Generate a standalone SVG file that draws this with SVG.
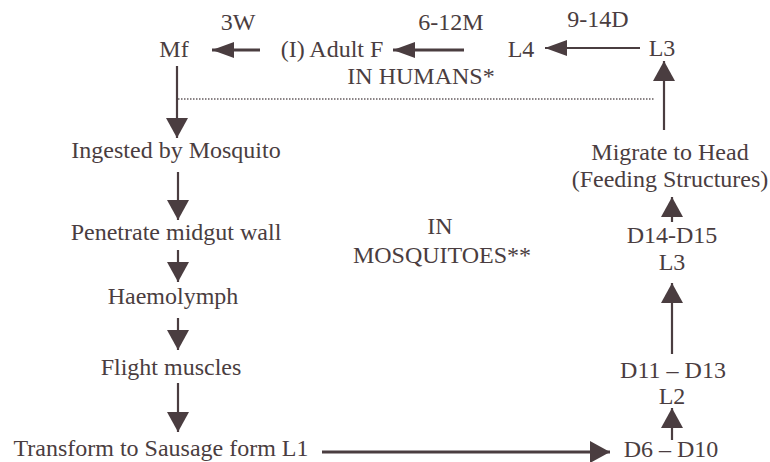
<svg xmlns="http://www.w3.org/2000/svg" width="770" height="462" viewBox="0 0 770 462">
<style>
text{font-family:'Liberation Serif','DejaVu Serif','Times New Roman',serif;font-size:24px;fill:#4a3d40;text-anchor:middle}
.ln{stroke:#4a3d40;stroke-width:2.2;fill:none}
.thick{stroke-width:3}
.dot{stroke:#8a8385;stroke-width:2;stroke-dasharray:1.5 1.5;fill:none}
</style>
<defs>
<marker id="ah" markerUnits="userSpaceOnUse" markerWidth="24" markerHeight="18" refX="22" refY="8" orient="auto" overflow="visible">
<path d="M0,0 L22,8 L0,16 z" fill="#4a3d40"/>
</marker>
<marker id="av" markerUnits="userSpaceOnUse" markerWidth="22" markerHeight="24" refX="20" refY="11" orient="auto" overflow="visible">
<path d="M0,0 L20,11 L0,22 z" fill="#4a3d40"/>
</marker>
</defs>
<rect width="770" height="462" fill="#ffffff"/>
<g id="connectors">
<line class="ln thick" x1="260" y1="50" x2="212" y2="50" marker-end="url(#ah)"/>
<line class="ln thick" x1="464" y1="50" x2="393" y2="50" marker-end="url(#ah)"/>
<line class="ln" x1="640" y1="48" x2="545" y2="48" marker-end="url(#ah)"/>
<line class="dot" x1="178" y1="99" x2="655" y2="99"/>
<line class="ln" x1="177" y1="66" x2="177" y2="138" marker-end="url(#av)"/>
<line class="ln" x1="178" y1="172" x2="178" y2="220" marker-end="url(#av)"/>
<line class="ln" x1="178" y1="250" x2="178" y2="282" marker-end="url(#av)"/>
<line class="ln" x1="178" y1="318" x2="178" y2="350" marker-end="url(#av)"/>
<line class="ln" x1="178" y1="383" x2="178" y2="432" marker-end="url(#av)"/>
<line class="ln thick" x1="322" y1="452" x2="610" y2="452" marker-end="url(#av)"/>
<line class="ln" x1="672" y1="440" x2="672" y2="408" marker-end="url(#av)"/>
<line class="ln" x1="672" y1="354" x2="672" y2="283" marker-end="url(#av)"/>
<line class="ln" x1="672" y1="222" x2="672" y2="197" marker-end="url(#av)"/>
<line class="ln" x1="664" y1="130" x2="664" y2="61" marker-end="url(#av)"/>
</g>
<g id="label-3w"><text x="238" y="30">3W</text></g>
<g id="label-6-12m"><text x="451" y="30">6-12M</text></g>
<g id="label-9-14d"><text x="598" y="27">9-14D</text></g>
<g id="node-mf"><text x="174" y="57">Mf</text></g>
<g id="node-adult"><text x="332" y="57">(I) Adult F</text></g>
<g id="node-l4"><text x="521" y="57">L4</text></g>
<g id="node-l3-top"><text x="662" y="56">L3</text></g>
<g id="label-humans"><text x="421" y="84">IN HUMANS*</text></g>
<g id="node-ingested"><text x="176" y="158">Ingested by Mosquito</text></g>
<g id="node-penetrate"><text x="176" y="240">Penetrate midgut wall</text></g>
<g id="node-haemolymph"><text x="173" y="304">Haemolymph</text></g>
<g id="node-flight"><text x="171" y="375">Flight muscles</text></g>
<g id="node-transform"><text x="161" y="456">Transform to Sausage form L1</text></g>
<g id="label-mosquitoes"><text x="440" y="234">IN</text><text x="442" y="263">MOSQUITOES**</text></g>
<g id="node-d6"><text x="671" y="457">D6 – D10</text></g>
<g id="node-l2"><text x="673" y="378">D11 – D13</text><text x="672" y="404">L2</text></g>
<g id="node-l3"><text x="672" y="243">D14-D15</text><text x="672" y="270">L3</text></g>
<g id="node-migrate"><text x="670" y="160">Migrate to Head</text><text x="670" y="187">(Feeding Structures)</text></g>
</svg>
